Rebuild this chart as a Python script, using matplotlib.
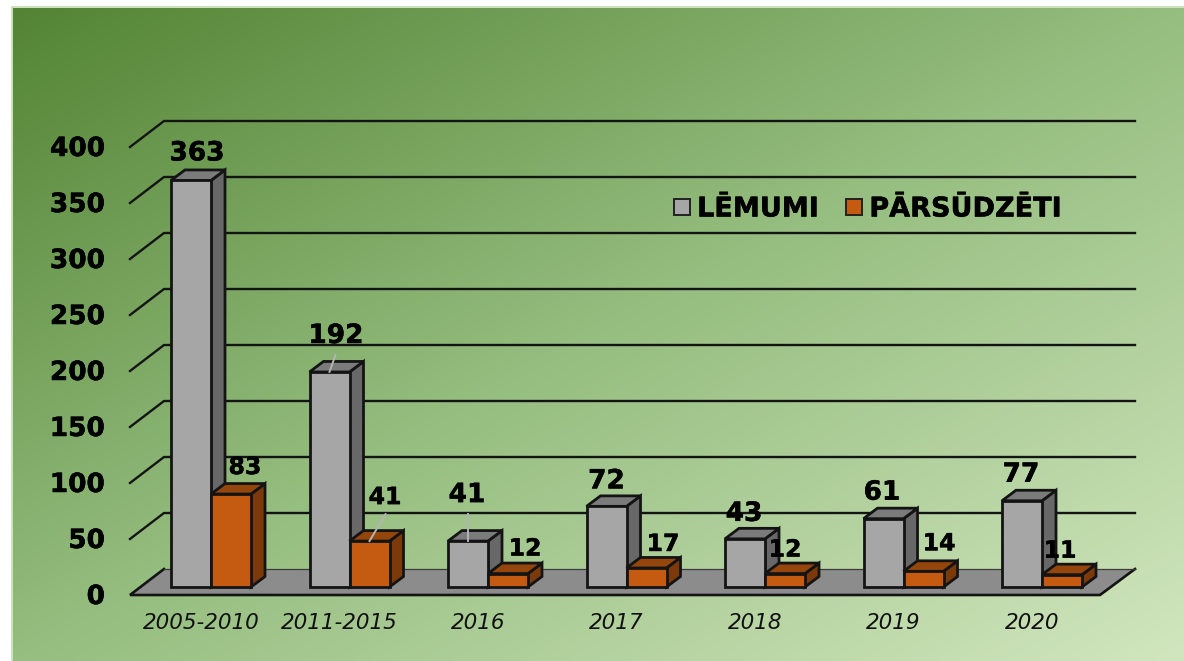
import numpy as np
import matplotlib
matplotlib.use("Agg")
import matplotlib.pyplot as plt
import matplotlib.patheffects as pe
from matplotlib.patches import Patch, Polygon

categories = ["2005-2010", "2011-2015", "2016", "2017", "2018", "2019", "2020"]
lemumi = [363, 192, 41, 72, 43, 61, 77]
parsudzeti = [83, 41, 12, 17, 12, 14, 11]
y_ticks = [0, 50, 100, 150, 200, 250, 300, 350, 400]

# label offsets from the top of each bar, in pixels
lemumi_offsets = [(6, 27), (6.5, 36), (-1, 46), (0, 25), (-1, 25), (-1.5, 26), (-1, 26)]
parsudzeti_offsets = [(14, 27), (15.5, 44), (17, 25), (16.5, 24), (0, 24), (15.5, 28), (-2, 24)]

W, H = 1184, 661
PX_X = 138.5   # pixels per category
PX_Y = 1.12    # pixels per value unit
X0, Y0 = 211, 587  # pixel position of category 0, value 0

BAR_W = 40 / PX_X
DEPTH_X = 14 / PX_X
DEPTH_Y = 10.5 / PX_Y

FLOOR_FRONT = -8 / PX_Y
FLOOR_BACK = 18 / PX_Y
WALL_FRONT_X = (130 - X0) / PX_X
WALL_BACK_X = (164 - X0) / PX_X
WALL_RIGHT_X = (1135 - X0) / PX_X
FLOOR_RIGHT_X = (1100 - X0) / PX_X

EDGE = "#141414"
GREY = ("#a6a6a6", "#7b7b7b", "#686868")
ORANGE = ("#c55a11", "#94460d", "#7c3a0b")
HEAVY = [pe.withStroke(linewidth=0.35, foreground="black")]

fig = plt.figure(figsize=(W / 100, H / 100), dpi=100, facecolor="white")

# pale frame and gradient panel
frame = fig.add_axes([11 / W, 0, 1 - 11 / W, 1 - 6 / H])
frame.set_facecolor("#cbe2bb")
frame.set_xticks([])
frame.set_yticks([])
for s in frame.spines.values():
    s.set_visible(False)

bg = fig.add_axes([13 / W, 0, 1 - 13 / W, 1 - 8 / H])
gx, gy = np.meshgrid(np.linspace(0, 1, 300), np.linspace(0, 1, 200))
t = (gx + gy) / 2
start = np.array([83, 132, 52]) / 255
mid = np.array([150, 190, 128]) / 255
end = np.array([209, 230, 190]) / 255
grad = np.where(t[..., None] < 0.5,
                start + (mid - start) * t[..., None] * 2,
                mid + (end - mid) * (t[..., None] - 0.5) * 2)
bg.imshow(grad, aspect="auto", interpolation="bilinear")
bg.axis("off")

ax = fig.add_axes([0, 0, 1, 1])
ax.patch.set_alpha(0)
ax.set_xlim(-X0 / PX_X, (W - X0) / PX_X)
ax.set_ylim((Y0 - H) / PX_Y, Y0 / PX_Y)
ax.axis("off")

# gridlines, side wall part and back wall part
for v in y_ticks[1:]:
    ax.plot([WALL_FRONT_X, WALL_BACK_X, WALL_RIGHT_X],
            [v + FLOOR_FRONT, v + FLOOR_BACK, v + FLOOR_BACK],
            color=EDGE, lw=1.7, solid_joinstyle="miter", zorder=1)

ax.add_patch(Polygon([(WALL_FRONT_X, FLOOR_FRONT), (WALL_BACK_X, FLOOR_BACK),
                      (WALL_RIGHT_X, FLOOR_BACK), (FLOOR_RIGHT_X, FLOOR_FRONT)],
                     facecolor="#8c8c8c", edgecolor="none", zorder=2))
ax.plot([WALL_BACK_X, WALL_FRONT_X, FLOOR_RIGHT_X, WALL_RIGHT_X],
        [FLOOR_BACK, FLOOR_FRONT, FLOOR_FRONT, FLOOR_BACK],
        color=EDGE, lw=1.9, solid_joinstyle="miter", zorder=2)
ax.plot([WALL_BACK_X, WALL_RIGHT_X], [FLOOR_BACK, FLOOR_BACK],
        color="#3c3c3c", lw=0.9, zorder=2)


def bar3d(x, v, colors, z):
    front, top, side = colors
    kw = dict(edgecolor=EDGE, lw=2.0, joinstyle="miter", zorder=z)
    ax.add_patch(Polygon([(x + BAR_W, 0), (x + BAR_W + DEPTH_X, DEPTH_Y),
                          (x + BAR_W + DEPTH_X, v + DEPTH_Y), (x + BAR_W, v)],
                         facecolor=side, **kw))
    ax.add_patch(Polygon([(x, v), (x + DEPTH_X, v + DEPTH_Y),
                          (x + BAR_W + DEPTH_X, v + DEPTH_Y), (x + BAR_W, v)],
                         facecolor=top, **kw))
    ax.add_patch(Polygon([(x, 0), (x + BAR_W, 0), (x + BAR_W, v), (x, v)],
                         facecolor=front, **kw))


for i in range(len(categories)):
    bar3d(i - BAR_W, lemumi[i], GREY, 3 + i * 2)
    bar3d(i, parsudzeti[i], ORANGE, 4 + i * 2)

# leader lines to moved labels: (x of bar top centre, value, pixel run, pixel rise)
leaders = [(1 - BAR_W / 2, lemumi[1], 6, 17),
           (1 + BAR_W / 2, parsudzeti[1], 16, 27),
           (2 - BAR_W / 2, lemumi[2], 0, 27)]
for x, v, dx, dy in leaders:
    ax.plot([x, x + dx / PX_X], [v, v + dy / PX_Y], color="#b4b4b4", lw=1.4, zorder=30)

for i in range(len(categories)):
    ax.annotate(str(lemumi[i]), xy=(i - BAR_W / 2, lemumi[i]), xytext=lemumi_offsets[i],
                textcoords="offset pixels", ha="center", va="center",
                fontsize=19, fontweight="bold", color="black", zorder=40, path_effects=HEAVY)
    ax.annotate(str(parsudzeti[i]), xy=(i + BAR_W / 2, parsudzeti[i]), xytext=parsudzeti_offsets[i],
                textcoords="offset pixels", ha="center", va="center",
                fontsize=17, fontweight="bold", color="black", zorder=40, path_effects=HEAVY)
    ax.text(i - 10 / PX_X, -36 / PX_Y, categories[i], ha="center", va="center",
            fontsize=15.5, style="italic", color="#111111")

for v in y_ticks:
    ax.text((105 - X0) / PX_X, v + FLOOR_FRONT - 2 / PX_Y, str(v), ha="right", va="center",
            fontsize=19, fontweight="bold", color="black", path_effects=HEAVY)

handles = [Patch(facecolor=GREY[0], edgecolor="#222222", lw=1.4),
           Patch(facecolor=ORANGE[0], edgecolor="#222222", lw=1.4)]
leg = ax.legend(handles, ["LĒMUMI", "PĀRSŪDZĒTI"], ncol=2, frameon=False,
                loc="center", bbox_to_anchor=(868 / W, 1 - 209.5 / H), bbox_transform=fig.transFigure,
                prop={"size": 19.5, "weight": "bold"}, handlelength=0.58, handleheight=0.58,
                handletextpad=0.28, columnspacing=1.0, borderpad=0, borderaxespad=0)
for txt in leg.get_texts():
    txt.set_path_effects(HEAVY)

fig.savefig("out.png", dpi=100)
